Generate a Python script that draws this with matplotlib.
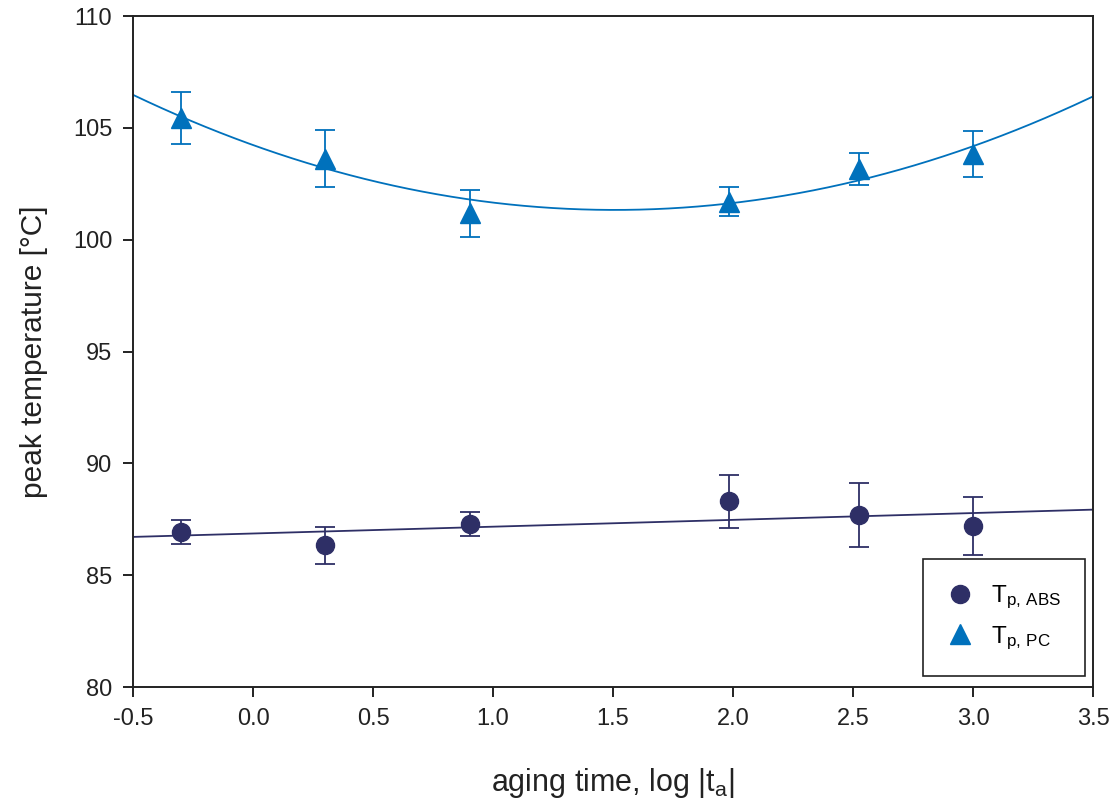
import numpy as np
import matplotlib.pyplot as plt
from matplotlib.lines import Line2D

plt.rcParams['font.family'] = ['Liberation Sans', 'DejaVu Sans']
plt.rcParams['mathtext.fontset'] = 'custom'
plt.rcParams['mathtext.rm'] = 'Liberation Sans'

# Aging times (hours) and their log10 values
aging_hours = np.array([0.5, 2, 8, 96, 336, 1000])
log_ta = np.log10(aging_hours)

# Peak temperatures and standard deviations
tp_abs = np.array([86.92, 86.33, 87.29, 88.31, 87.70, 87.20])
tp_abs_err = np.array([0.54, 0.82, 0.54, 1.18, 1.42, 1.30])
tp_pc = np.array([105.45, 103.62, 101.18, 101.70, 103.16, 103.84])
tp_pc_err = np.array([1.16, 1.27, 1.05, 0.65, 0.73, 1.02])

col_abs = '#2e2f66'
col_pc = '#0071bc'

fig = plt.figure(figsize=(11.17, 8.06), dpi=100)
ax = fig.add_axes([0.1191, 0.1476, 0.8594, 0.8325])

x_fit = np.linspace(-0.5, 3.5, 200)

# linear fit for ABS, quadratic for PC
p_abs = np.polyfit(log_ta, tp_abs, 1)
p_pc = np.polyfit(log_ta, tp_pc, 2)
ax.plot(x_fit, np.polyval(p_abs, x_fit), color=col_abs, lw=1.3, zorder=2)
ax.plot(x_fit, np.polyval(p_pc, x_fit), color=col_pc, lw=1.3, zorder=2)

ax.errorbar(log_ta, tp_abs, yerr=tp_abs_err, fmt='o', color=col_abs, ms=13,
            capsize=7, elinewidth=1.3, capthick=1.3, zorder=3)
ax.errorbar(log_ta, tp_pc, yerr=tp_pc_err, fmt='^', color=col_pc, ms=14,
            capsize=7, elinewidth=1.3, capthick=1.3, zorder=3)

ax.set_xlim(-0.5, 3.5)
ax.set_ylim(80, 110)
ax.set_xticks(np.arange(-0.5, 3.51, 0.5))
ax.set_xticklabels([f'{v:.1f}' for v in np.arange(-0.5, 3.51, 0.5)])
ax.set_yticks(np.arange(80, 111, 5))

for s in ax.spines.values():
    s.set_linewidth(1.4)
    s.set_color('#222222')
ax.tick_params(direction='out', length=7, width=1.4, pad=8, labelsize=17,
               colors='#222222', labelcolor='#222222')

ax.set_xlabel(r'aging time, log |t$_\mathregular{a}$|', fontsize=22,
              labelpad=26, color='#222222')
ax.set_ylabel('peak temperature [°C]', fontsize=21.5, labelpad=18,
              color='#222222')

# legend shows markers only
handles = [
    Line2D([], [], ls='none', marker='o', ms=13, color=col_abs),
    Line2D([], [], ls='none', marker='^', ms=14, color=col_pc),
]
labels = [r'$\mathregular{T_{p{,}\ ABS}}$', r'$\mathregular{T_{p{,}\ PC}}$']
leg = ax.legend(handles, labels, loc='lower right',
                bbox_to_anchor=(0.9917, 0.0164), fontsize=17.5,
                frameon=True, fancybox=False, framealpha=1, borderpad=1.0,
                labelspacing=0.55, handletextpad=0.7, handlelength=1.1,
                borderaxespad=0)
leg.get_frame().set_edgecolor('#222222')
leg.get_frame().set_linewidth(1.2)

fig.savefig('out.png', dpi=100)
